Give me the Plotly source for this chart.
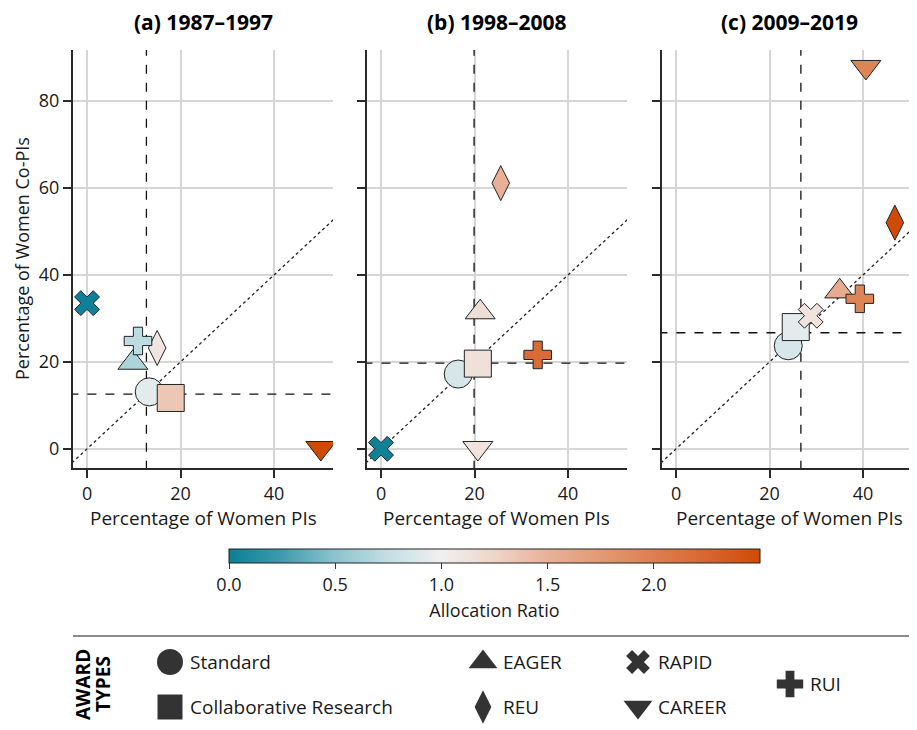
import plotly.graph_objects as go

# ---------------- data ----------------
periods = ["(a) 1987–1997", "(b) 1998–2008", "(c) 2009–2019"]
award_types = ["Standard", "Collaborative Research", "EAGER", "REU", "RAPID", "CAREER", "RUI"]

# percentage of women PIs (x) per period, in award_types order
pct_women_pi_a = [13.3, 17.9, 9.8, 15.0, 0.0, 50.0, 10.9]
pct_women_pi_b = [16.5, 20.7, 21.2, 25.6, 0.0, 20.7, 33.5]
pct_women_pi_c = [24.0, 25.6, 35.0, 46.8, 28.8, 40.6, 39.3]

# percentage of women Co-PIs (y)
pct_women_copi_a = [13.1, 11.7, 19.8, 23.2, 33.5, 0.2, 24.8]
pct_women_copi_b = [17.2, 19.6, 31.4, 61.1, 0.0, 0.2, 21.6]
pct_women_copi_c = [23.7, 28.0, 36.2, 52.0, 30.6, 87.8, 34.5]

# allocation ratio (colour)
alloc_ratio_a = [0.92, 1.35, 0.65, 1.10, 0.02, 2.50, 0.72]
alloc_ratio_b = [0.85, 1.15, 1.17, 1.50, 0.02, 1.12, 2.20]
alloc_ratio_c = [0.85, 0.93, 1.55, 2.50, 1.12, 1.95, 1.95]

# period means (dashed reference lines)
mean_pi = [12.7, 19.9, 26.7]
mean_copi = [12.6, 19.7, 26.7]

x_ticks = [0, 20, 40]
y_ticks = [0, 20, 40, 60, 80]
cbar_ticks = [0.0, 0.5, 1.0, 1.5, 2.0]

pis = [pct_women_pi_a, pct_women_pi_b, pct_women_pi_c]
copis = [pct_women_copi_a, pct_women_copi_b, pct_women_copi_c]
ratios = [alloc_ratio_a, alloc_ratio_b, alloc_ratio_c]

# ---------------- style ----------------
OFF = 8                      # page body margin
W, H = 917 - OFF, 730 - OFF  # figure size
FONT = "Open Sans, Noto Sans, DejaVu Sans, sans-serif"
TXT = "#1a1a1a"
symbols = ["circle", "square", "triangle-up", "diamond-tall", "x", "triangle-down", "cross"]
sizes = [28, 27, 26, 25, 22, 26, 23]
leg_sizes = [26, 25, 25, 24, 21, 25, 22]

colorscale = [
    [0.0, "#0a7f96"], [0.1, "#3f9bad"], [0.2, "#8cc4ce"], [0.3, "#c4dfe4"],
    [0.4, "#f1f0f0"], [0.5, "#eed5c9"], [0.6, "#e8b197"], [0.7, "#e29a74"],
    [0.8, "#de7f50"], [0.9, "#d86630"], [1.0, "#cf4a04"],
]

# target positions in screenshot pixels
x_px = [(73, 333), (367, 627), (662, 917)]
y_top, y_bot = 50, 468
x_range = [-3, 52.6]
y_range = [-4.4, 91.7]
FAR = [-100, 200]  # extends reference lines beyond the visible axis range


def px(v):
    return (v - OFF) / W


def py(v):
    return 1 - (v - OFF) / H


fig = go.Figure()
layout_axes = {}
shapes = []
annotations = []

unit_px = (x_px[0][1] - x_px[0][0]) / (x_range[1] - x_range[0])
dash_line = dict(color="#111", width=1.3, dash="dash")

for i in range(3):
    suf = "" if i == 0 else str(i + 1)
    xa, ya = "x" + suf, "y" + suf
    x0, x1 = x_px[i]
    xr = [x_range[0], x_range[0] + (x1 - x0) / unit_px]

    # y = x diagonal
    fig.add_trace(go.Scatter(
        x=FAR, y=FAR, mode="lines", line=dict(color="#222", width=1.3, dash="dot"),
        xaxis=xa, yaxis=ya, showlegend=False, hoverinfo="skip"))
    # mean lines
    fig.add_trace(go.Scatter(
        x=[mean_pi[i], mean_pi[i]], y=FAR, mode="lines", line=dash_line,
        xaxis=xa, yaxis=ya, showlegend=False, hoverinfo="skip"))
    fig.add_trace(go.Scatter(
        x=FAR, y=[mean_copi[i], mean_copi[i]], mode="lines", line=dash_line,
        xaxis=xa, yaxis=ya, showlegend=False, hoverinfo="skip"))
    # award markers
    fig.add_trace(go.Scatter(
        x=pis[i], y=copis[i], mode="markers", text=award_types,
        marker=dict(symbol=symbols, size=sizes, color=ratios[i], coloraxis="coloraxis",
                    opacity=1, line=dict(color="#222", width=1)),
        xaxis=xa, yaxis=ya, showlegend=False))

    common = dict(showgrid=True, gridcolor="#d6d6d6", gridwidth=1.5, zeroline=False,
                  showline=True, linecolor="#2a2a2a", linewidth=2, ticks="outside",
                  ticklen=8, tickwidth=1.5, tickcolor="#2a2a2a",
                  tickfont=dict(size=18, color=TXT, family=FONT))
    layout_axes["xaxis" + suf] = dict(common, domain=[px(x0), min(1, px(x1))], range=xr,
                                      tickvals=x_ticks, anchor=ya)
    layout_axes["yaxis" + suf] = dict(common, domain=[py(y_bot), py(y_top)], range=y_range,
                                      tickvals=y_ticks, anchor=xa,
                                      showticklabels=(i == 0))

    annotations.append(dict(text="<b>" + periods[i] + "</b>", x=px((x0 + x1) / 2), y=py(22),
                            xref="paper", yref="paper", showarrow=False, xanchor="center",
                            yanchor="middle", font=dict(size=21, color="#000", family=FONT)))
    annotations.append(dict(text="Percentage of Women PIs", x=px((x0 + x1) / 2), y=py(518),
                            xref="paper", yref="paper", showarrow=False, xanchor="center",
                            yanchor="middle", font=dict(size=19, color=TXT, family=FONT)))

annotations.append(dict(text="Percentage of Women Co-PIs", x=px(22), y=py((y_top + y_bot) / 2),
                        xref="paper", yref="paper", showarrow=False, textangle=-90,
                        xanchor="center", yanchor="middle",
                        font=dict(size=18, color=TXT, family=FONT)))

# ---------------- custom legend ----------------
leg_x = [170, 170, 483, 483, 638, 638, 790]
leg_y = [662, 707, 662, 707, 662, 707, 684]
fig.add_trace(go.Scatter(
    x=leg_x, y=leg_y, mode="markers", xaxis="x4", yaxis="y4", showlegend=False,
    hoverinfo="skip",
    marker=dict(symbol=symbols, size=leg_sizes, color="#333333", opacity=1, line=dict(width=0))))
for lx, ly, name in zip(leg_x, leg_y, award_types):
    annotations.append(dict(text=name, x=px(lx + 18), y=py(ly), xref="paper", yref="paper",
                            showarrow=False, xanchor="left", yanchor="middle",
                            font=dict(size=19, color=TXT, family=FONT)))
annotations.append(dict(text="<b>AWARD</b>", x=px(83), y=py(685), xref="paper", yref="paper",
                        showarrow=False, textangle=-90, xanchor="center", yanchor="middle",
                        font=dict(size=19, color="#000", family=FONT)))
annotations.append(dict(text="<b>TYPES</b>", x=px(103), y=py(684), xref="paper", yref="paper",
                        showarrow=False, textangle=-90, xanchor="center", yanchor="middle",
                        font=dict(size=19, color="#000", family=FONT)))
shapes.append(dict(type="line", xref="paper", yref="paper", x0=px(73), x1=1, y0=py(636),
                   y1=py(636), line=dict(color="#666", width=1.5)))

leg_top = 640
layout_axes["xaxis4"] = dict(domain=[0, 1], range=[OFF, OFF + W], visible=False,
                             fixedrange=True, anchor="y4", showgrid=False, zeroline=False)
layout_axes["yaxis4"] = dict(domain=[0, py(leg_top)], range=[OFF + H, leg_top], visible=False,
                             fixedrange=True, anchor="x4", showgrid=False, zeroline=False)

fig.update_layout(
    width=W, height=H, margin=dict(l=0, r=0, t=0, b=0),
    paper_bgcolor="white", plot_bgcolor="rgba(0,0,0,0)",
    font=dict(family=FONT, color=TXT),
    shapes=shapes, annotations=annotations,
    coloraxis=dict(
        colorscale=colorscale, cmin=0, cmax=2.5,
        colorbar=dict(
            orientation="h", x=px((229 + 760) / 2), xanchor="center",
            y=py(549), yanchor="top", len=(760 - 229) / W, lenmode="fraction",
            thickness=14, thicknessmode="pixels", outlinecolor="#222", outlinewidth=1,
            ticks="outside", ticklen=6, tickcolor="#333", tickvals=cbar_ticks,
            tickformat=".1f", tickfont=dict(size=18, color=TXT, family=FONT),
            title=dict(text="Allocation Ratio", side="bottom",
                       font=dict(size=18, color=TXT, family=FONT)),
            xpad=0, ypad=0)),
    **layout_axes,
)

fig.write_html("out.html")
